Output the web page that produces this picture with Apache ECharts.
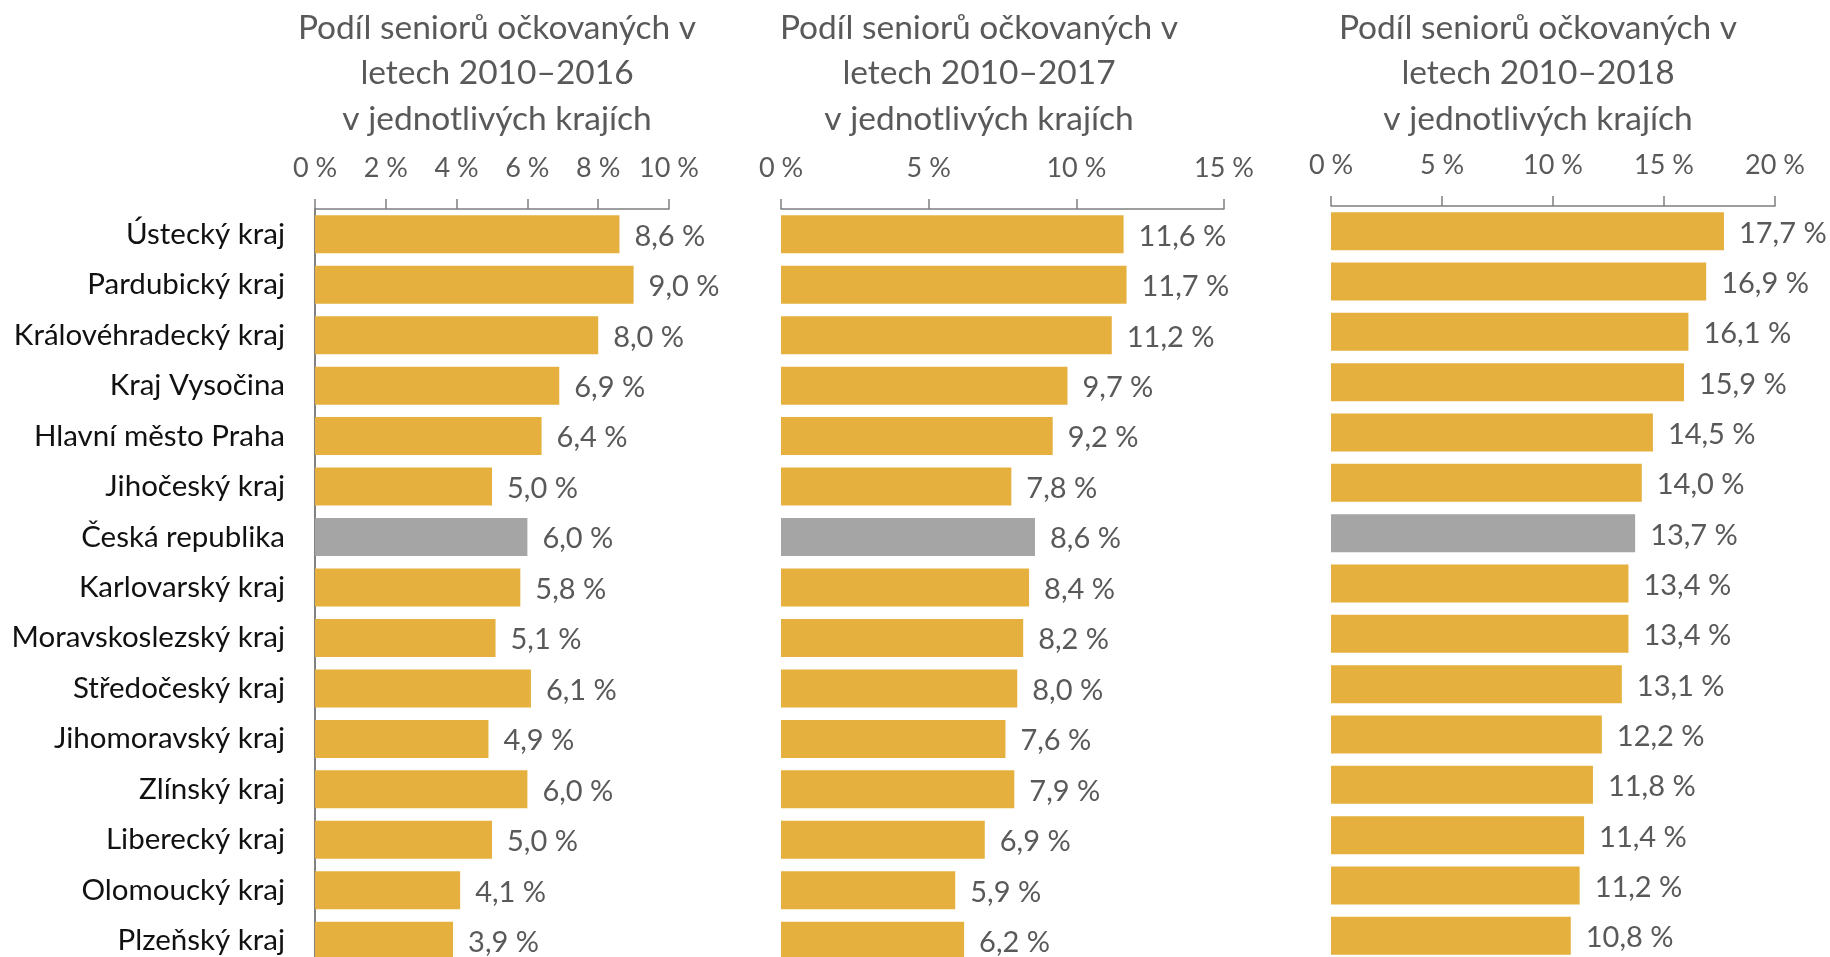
<!DOCTYPE html>
<html>
<head>
<meta charset="utf-8">
<script src="https://cdn.jsdelivr.net/npm/echarts@6/dist/echarts.min.js"></script>
<style>
  html, body { margin: 0; padding: 0; background: #fff; overflow: hidden; }
  #frame { width: 1830px; height: 957px; overflow: hidden; }
  /* chart is a bit taller than the window: last row is cut off like in the source */
  #chart { width: 1830px; height: 975px; }
</style>
</head>
<body>
<div id="frame"><div id="chart"></div></div>
<script>
const regions = [
  "Ústecký kraj", "Pardubický kraj", "Královéhradecký kraj", "Kraj Vysočina",
  "Hlavní město Praha", "Jihočeský kraj", "Česká republika", "Karlovarský kraj",
  "Moravskoslezský kraj", "Středočeský kraj", "Jihomoravský kraj", "Zlínský kraj",
  "Liberecký kraj", "Olomoucký kraj", "Plzeňský kraj"
];
const share2016 = [8.6, 9.0, 8.0, 6.9, 6.4, 5.0, 6.0, 5.8, 5.1, 6.1, 4.9, 6.0, 5.0, 4.1, 3.9];
const share2017 = [11.6, 11.7, 11.2, 9.7, 9.2, 7.8, 8.6, 8.4, 8.2, 8.0, 7.6, 7.9, 6.9, 5.9, 6.2];
const share2018 = [17.7, 16.9, 16.1, 15.9, 14.5, 14.0, 13.7, 13.4, 13.4, 13.1, 12.2, 11.8, 11.4, 11.2, 10.8];
const titles = [
  "Podíl seniorů očkovaných v\nletech 2010–2016\nv jednotlivých krajích",
  "Podíl seniorů očkovaných v\nletech 2010–2017\nv jednotlivých krajích",
  "Podíl seniorů očkovaných v\nletech 2010–2018\nv jednotlivých krajích"
];
const axisMax = [10, 15, 20];
const axisStep = [2, 5, 5];

const FONT = "Lato";
const GREY_TEXT = "#595959";
const YELLOW = "#E5B03E";
const GREY_BAR = "#A5A5A5";

const panels = [
  { left: 315, width: 354, top: 209, height: 757, titleX: 492, data: share2016 },
  { left: 781, width: 443, top: 209, height: 757, titleX: 974, data: share2017 },
  { left: 1331, width: 444, top: 206, height: 755, titleX: 1533, data: share2018 }
];

const fmt = v => v.toFixed(1).replace(".", ",") + " %";

const option = {
  animation: false,
  backgroundColor: "#fff",
  textStyle: { fontFamily: FONT },
  title: [],
  grid: [],
  xAxis: [],
  yAxis: [],
  series: []
};

panels.forEach((p, i) => {
  option.title.push({
    text: titles[i],
    left: p.titleX,
    top: 0,
    textAlign: "center",
    textStyle: {
      fontFamily: FONT,
      fontWeight: "normal",
      fontSize: 33.5,
      lineHeight: 45.5,
      color: GREY_TEXT
    }
  });
  option.grid.push({
    left: p.left,
    top: p.top,
    width: p.width,
    height: p.height,
    containLabel: false
  });
  option.xAxis.push({
    type: "value",
    gridIndex: i,
    position: "top",
    min: 0,
    max: axisMax[i],
    interval: axisStep[i],
    splitLine: { show: false },
    axisLine: { show: true, lineStyle: { color: "#7f7f7f", width: 1.5 } },
    axisTick: { show: true, length: 10, lineStyle: { color: "#7f7f7f", width: 1.5 } },
    axisLabel: {
      margin: 27,
      fontFamily: FONT,
      fontSize: 27,
      color: GREY_TEXT,
      formatter: v => v + " %"
    }
  });
  option.yAxis.push({
    type: "category",
    gridIndex: i,
    data: regions,
    inverse: true,
    axisLine: { show: i === 0, lineStyle: { color: "#595959", width: 1.5 } },
    axisTick: { show: false },
    axisLabel: {
      show: i === 0,
      margin: 30,
      fontFamily: FONT,
      fontSize: 29.5,
      color: "#111"
    }
  });
  option.series.push({
    type: "bar",
    xAxisIndex: i,
    yAxisIndex: i,
    barWidth: 38,
    data: p.data.map((v, k) => ({
      value: v,
      itemStyle: { color: regions[k] === "Česká republika" ? GREY_BAR : YELLOW }
    })),
    label: {
      show: true,
      position: "right",
      distance: 15,
      offset: [0, 2],
      fontFamily: FONT,
      fontSize: 29,
      color: GREY_TEXT,
      formatter: d => fmt(d.value)
    }
  });
});

const chart = echarts.init(document.getElementById("chart"));
chart.setOption(option);
</script>
</body>
</html>
